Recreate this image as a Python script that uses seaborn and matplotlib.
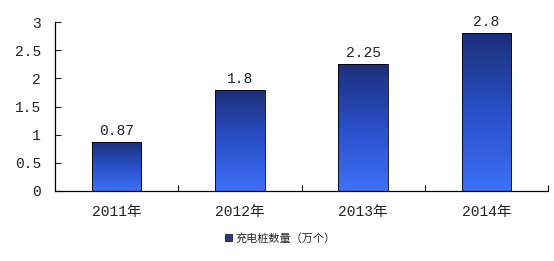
import matplotlib
matplotlib.use("Agg")
import matplotlib.pyplot as plt
import seaborn as sns
import numpy as np
import pandas as pd
from matplotlib.patches import Patch
from matplotlib.colors import LinearSegmentedColormap

categories = ["2011年", "2012年", "2013年", "2014年"]
values = [0.87, 1.8, 2.25, 2.8]
value_labels = ["0.87", "1.8", "2.25", "2.8"]
series_name = "充电桩数量（万个）"
yticks = [0, 0.5, 1, 1.5, 2, 2.5, 3]
ytick_labels = ["0", "0.5", "1", "1.5", "2", "2.5", "3"]

sns.set_style("white")
plt.rcParams['font.family'] = ['Liberation Mono', 'Noto Sans CJK SC', 'DejaVu Sans']

fig = plt.figure(figsize=(5.54, 2.61), dpi=100)
ax = fig.add_axes([55/554, 70/261, 493/554, 169/261])

df = pd.DataFrame({"cat": categories, "val": values})
sns.barplot(data=df, x="cat", y="val", ax=ax, width=0.4, color="#2a4bbf",
            edgecolor="black", linewidth=0.6)

cmap = LinearSegmentedColormap.from_list("g", ["#3d70f7", "#2a4fc8", "#1c2f78"])
grad = np.linspace(0, 1, 256).reshape(-1, 1)
for i, p in enumerate(ax.patches):
    x0, y0 = p.get_x(), p.get_y()
    w, h = p.get_width(), p.get_height()
    im = ax.imshow(grad, cmap=cmap, aspect="auto", origin="lower",
                   extent=[x0, x0 + w, y0, y0 + h], zorder=p.get_zorder() + 0.1)
    im.set_clip_path(p)
    p.set_facecolor("none")
    p.set_zorder(p.get_zorder() + 0.2)
    ax.text(x0 + w / 2, h + 0.07, value_labels[i], ha="center",
            va="bottom", fontsize=10.5, color="#222222")

ax.set_xlim(-0.5, 3.5)
ax.set_ylim(0, 3)
ax.set_yticks(yticks)
ax.set_yticklabels(ytick_labels, fontsize=10.5)
ax.set_xticks(range(len(categories)))
ax.set_xticklabels(categories, fontsize=10.5)
ax.set_xlabel("")
ax.set_ylabel("")
for s in ["top", "right"]:
    ax.spines[s].set_visible(False)
for s in ["left", "bottom"]:
    ax.spines[s].set_color("black")
    ax.spines[s].set_linewidth(0.9)
ax.tick_params(axis="y", direction="in", length=4, width=0.8, left=True, pad=10, colors="#222222")
ax.tick_params(axis="x", length=0, pad=10, colors="#222222")
ax.set_xticks([0.5, 1.5, 2.5, 3.5], minor=True)
ax.tick_params(axis="x", which="minor", direction="in", length=4, width=0.8, bottom=True, colors="black")

handle = Patch(facecolor="#26398f", edgecolor="black", linewidth=0.5)
fig.legend([handle], [series_name], loc="center", bbox_to_anchor=(280/554, 1 - 238/261),
           frameon=False, handlelength=0.6, handleheight=0.6,
           handletextpad=0.3, prop={'family': ['Noto Sans CJK SC'], 'size': 8})

fig.savefig("out.png", dpi=100)
